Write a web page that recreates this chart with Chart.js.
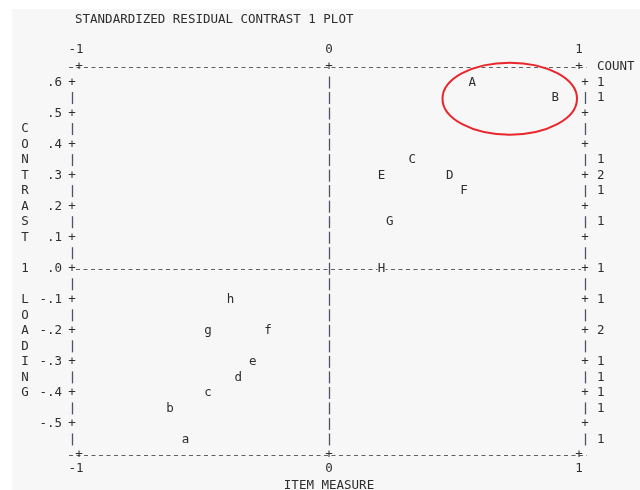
<!DOCTYPE html>
<html>
<head>
<meta charset="utf-8">
<script src="https://cdn.jsdelivr.net/npm/chart.js@4/dist/chart.umd.min.js"></script>
<style>
  html, body { margin: 0; padding: 0; background: #ffffff; }
  #wrap { width: 640px; height: 490px; }
</style>
</head>
<body>
<div id="wrap"><canvas id="plot" width="640" height="490"></canvas></div>
<script>
// Item labels, item measures (x) and contrast-1 loadings (y)
const itemLabels = ['A', 'B', 'C', 'E', 'D', 'F', 'G', 'H', 'h', 'g', 'f', 'e', 'd', 'c', 'b', 'a'];
const measures   = [0.573, 0.905, 0.333, 0.21, 0.483, 0.54, 0.243, 0.21, -0.394, -0.484, -0.244, -0.305, -0.363, -0.484, -0.636, -0.574];
const loadings   = [0.60, 0.55, 0.35, 0.30, 0.30, 0.25, 0.15, 0.00, -0.10, -0.20, -0.20, -0.30, -0.35, -0.40, -0.45, -0.55];

// Axis ticks and labels
const xTicks = [-1, 0, 1];
const xTickLabels = ['-1', '0', '1'];
const yTicks = [0.6, 0.5, 0.4, 0.3, 0.2, 0.1, 0.0, -0.1, -0.2, -0.3, -0.4, -0.5];
const yTickLabels = ['.6', '.5', '.4', '.3', '.2', '.1', '.0', '-.1', '-.2', '-.3', '-.4', '-.5'];

const titleText = 'STANDARDIZED RESIDUAL CONTRAST 1 PLOT';
const xTitle = 'ITEM MEASURE';
const yTitle = 'CONTRAST 1 LOADING';
const countTitle = 'COUNT';

// Highlight ring around the two top items: centre and radii in data units
const ringCenter = [0.723, 0.548];
const ringRadii = [0.269, 0.116];

const MONO = '12.5px "DejaVu Sans Mono", "Liberation Mono", monospace';
const INK = '#2e2e2e';
const DASH = '#606060';
const BAR = '#4c5560';
const ROW_STEP = 0.05;

const textPlot = {
  id: 'textPlot',
  beforeDraw(chart) {
    const ctx = chart.ctx;
    ctx.save();
    ctx.fillStyle = '#ffffff';
    ctx.fillRect(0, 0, chart.width, chart.height);
    ctx.fillStyle = '#f7f7f7';
    ctx.fillRect(12, 9, chart.width - 12, chart.height - 9);
    ctx.restore();
  },
  afterDraw(chart) {
    const ctx = chart.ctx;
    const xs = chart.scales.x, ys = chart.scales.y;
    const px = v => xs.getPixelForValue(v);
    const py = v => ys.getPixelForValue(v);
    const area = chart.chartArea;
    const ch = 7.5; // one character column
    ctx.save();
    ctx.font = MONO;
    ctx.textBaseline = 'middle';
    ctx.fillStyle = INK;

    // title
    ctx.textAlign = 'left';
    ctx.fillText(titleText, 75, 20);

    // top and bottom tick labels
    ctx.textAlign = 'center';
    xTicks.forEach((t, i) => {
      const dx = xTickLabels[i].startsWith('-') ? -3 : 0;
      ctx.fillText(xTickLabels[i], px(t) + dx, 50);
      ctx.fillText(xTickLabels[i], px(t) + dx, 469);
    });
    ctx.fillText(xTitle, px(0), 486);

    // dashed horizontal rules: top border, zero line, bottom border
    const leftEdge = px(-1) - 7;
    const rightEdge = px(1) + 6;
    ctx.strokeStyle = DASH;
    ctx.lineWidth = 1;
    ctx.setLineDash([4, ch - 4]);
    [[area.top, leftEdge - 3, rightEdge + 2], [area.bottom, leftEdge - 3, rightEdge + 2], [py(0), leftEdge + 4, rightEdge - 4]]
      .forEach(([y, a, b]) => {
        ctx.beginPath();
        ctx.moveTo(a, Math.round(y) + 0.5);
        ctx.lineTo(b, Math.round(y) + 0.5);
        ctx.stroke();
      });
    ctx.setLineDash([]);

    // "+" marks where the ticks cross the top and bottom borders
    xTicks.forEach(t => {
      ctx.fillText('+', px(t), area.top);
      ctx.fillText('+', px(t), area.bottom);
    });
    ctx.textAlign = 'left';
    ctx.fillText(countTitle, px(1) + 2.4 * ch, area.top);

    // vertical bar segment, one per text row
    const bar = (x, y) => {
      ctx.save();
      ctx.strokeStyle = BAR;
      ctx.lineWidth = 1.3;
      ctx.beginPath();
      ctx.moveTo(Math.round(x) + 0.5, y - 6);
      ctx.lineTo(Math.round(x) + 0.5, y + 6);
      ctx.stroke();
      ctx.restore();
    };

    // row-by-row vertical borders, centre line and counts
    const counts = {};
    loadings.forEach(l => {
      const k = Math.round(l / ROW_STEP);
      counts[k] = (counts[k] || 0) + 1;
    });
    const tickKeys = new Set(yTicks.map(t => Math.round(t / ROW_STEP)));
    const topRow = Math.round(yTicks[0] / ROW_STEP);
    const bottomRow = Math.round(-0.55 / ROW_STEP);
    for (let k = topRow; k >= bottomRow; k--) {
      const y = py(k * ROW_STEP);
      ctx.textAlign = 'center';
      if (tickKeys.has(k)) {
        ctx.fillText('+', leftEdge, y);
        ctx.fillText('+', rightEdge, y);
      } else {
        bar(leftEdge, y);
        bar(rightEdge, y);
      }
      bar(px(0), y);
      if (counts[k]) {
        ctx.textAlign = 'left';
        ctx.fillText(String(counts[k]), px(1) + 2.4 * ch, y);
      }
    }

    // y tick labels
    ctx.textAlign = 'right';
    yTicks.forEach((t, i) => ctx.fillText(yTickLabels[i], 62, py(t)));

    // vertical axis title, one letter per row starting at .45
    ctx.textAlign = 'center';
    [...yTitle].forEach((c, i) => {
      if (c !== ' ') ctx.fillText(c, 25, py(0.45 - i * ROW_STEP));
    });

    // item letters at their plotted points
    const meta = chart.getDatasetMeta(0);
    meta.data.forEach((pt, i) => {
      if (loadings[i] === 0) {
        ctx.fillStyle = '#f7f7f7';
        ctx.fillRect(pt.x - 4, pt.y - 6, 8, 12);
      }
      ctx.fillStyle = INK;
      ctx.fillText(itemLabels[i], pt.x, pt.y);
    });

    // highlight ring
    ctx.strokeStyle = '#e8262b';
    ctx.lineWidth = 2;
    ctx.beginPath();
    const cx = px(ringCenter[0]), cy = py(ringCenter[1]);
    const rx = px(ringCenter[0] + ringRadii[0]) - cx;
    const ry = cy - py(ringCenter[1] + ringRadii[1]);
    ctx.ellipse(cx, cy, rx, ry, 0, 0, Math.PI * 2);
    ctx.stroke();
    ctx.restore();
  }
};

new Chart(document.getElementById('plot'), {
  type: 'scatter',
  data: {
    datasets: [{
      label: 'Items',
      data: measures.map((m, i) => ({ x: m, y: loadings[i] })),
      pointRadius: 0,
      pointHoverRadius: 0,
      showLine: false
    }]
  },
  options: {
    responsive: false,
    animation: false,
    events: [],
    layout: { padding: { left: 79, right: 61, top: 67, bottom: 35 } },
    plugins: { legend: { display: false }, tooltip: { enabled: false } },
    scales: {
      x: { type: 'linear', min: -1, max: 1, display: false },
      y: { type: 'linear', min: -0.6, max: 0.65, display: false }
    }
  },
  plugins: [textPlot]
});
</script>
</body>
</html>
